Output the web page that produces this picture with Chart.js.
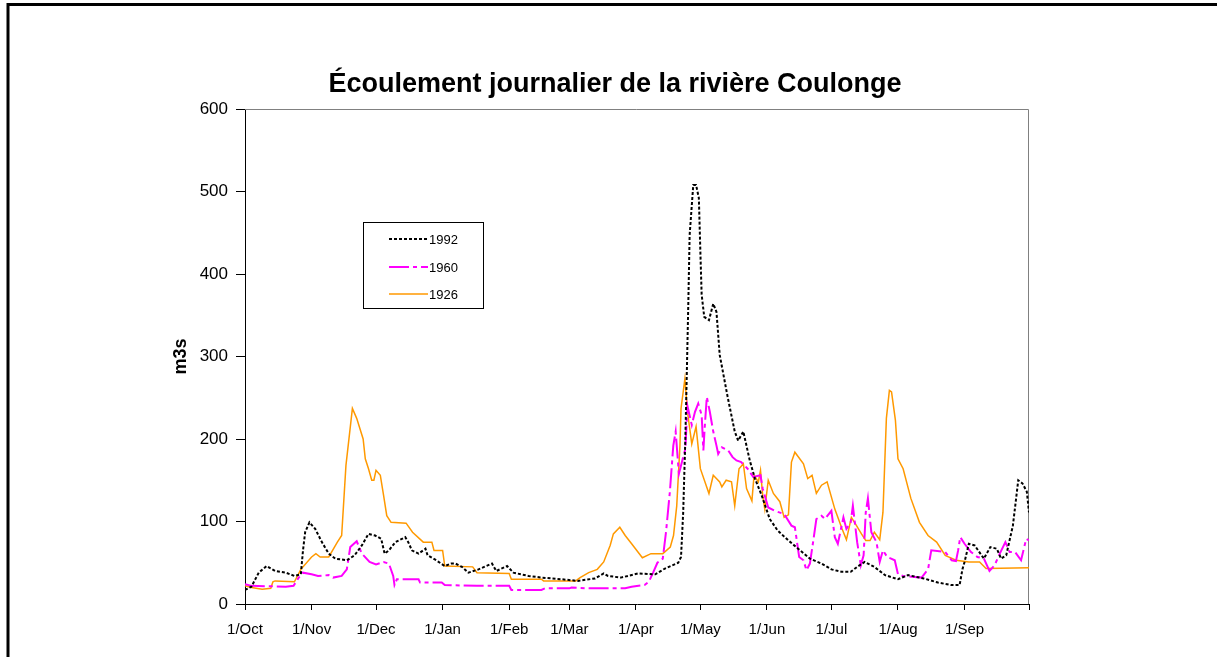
<!DOCTYPE html>
<html>
<head>
<meta charset="utf-8">
<script src="https://cdn.jsdelivr.net/npm/chart.js@4.4.1/dist/chart.umd.min.js"></script>
<style>
    html, body { margin: 0; padding: 0; background: #fff; }
    #wrap { width: 1217px; height: 657px; position: relative; }
</style>
</head>
<body>
<div id="wrap"><canvas id="flowChart"></canvas></div>
<script>
// day index counted from 1 October
const monthStarts = [0, 31, 61, 92, 123, 151, 182, 212, 243, 273, 304, 335, 365];
const monthLabels = ["1/Oct", "1/Nov", "1/Dec", "1/Jan", "1/Feb", "1/Mar", "1/Apr", "1/May", "1/Jun", "1/Jul", "1/Aug", "1/Sep", ""];

const chartTitle = "Écoulement journalier de la rivière Coulonge";
const seriesNames = ["1992", "1960", "1926"];

const days1992 = [0, 3, 6.4, 10, 14, 19, 23, 26, 27, 28, 30, 32.7, 35.8, 39, 42, 47.4, 51, 54.4, 57.5, 60.6, 63.4, 65, 67, 70, 74.6, 76, 77.7, 80.8, 84, 85, 89, 93, 96, 98, 101, 104, 108.7, 115, 117, 122, 125, 132, 138, 147.4, 155, 163, 167, 169, 175, 183, 191, 195.5, 201.7, 203, 204, 205, 205.6, 206.4, 207, 208.7, 210, 211.3, 212, 212.6, 213.8, 216, 218, 219.5, 221, 224.7, 228, 229.6, 232, 235, 237.4, 240.5, 244.3, 248, 253, 257.5, 263, 268.4, 273, 277.7, 282, 285, 288.5, 293, 298, 304, 308.7, 316, 322.6, 328.8, 332.7, 334, 335, 337, 339.7, 344, 347, 350, 352, 354.4, 357.5, 360, 362, 364, 365];
const flow1992 = [17, 21, 38, 46, 40, 38, 34, 36, 65, 87, 99, 91, 75, 61, 55, 53, 59, 71, 85, 83, 79, 61, 65, 75, 81, 75, 65, 61, 67, 59, 53, 46, 49, 49, 45, 38, 42, 49, 40, 46, 38, 34, 32, 30, 28, 31, 37, 34, 32, 37, 36, 43, 50, 57, 111, 200, 269, 366, 447, 508, 508, 492, 427, 375, 348, 344, 364, 354, 302, 251, 209, 198, 209, 174, 152, 132, 103, 89, 77, 67, 55, 49, 42, 39, 39, 45, 51, 45, 35, 30, 35, 31, 26, 23, 23, 42, 51, 73, 71, 55, 69, 67, 55, 59, 95, 150, 146, 136, 111];

const days1960 = [0, 3, 19, 22.6, 25, 27, 31, 34, 39, 41, 45, 47.4, 49, 52, 54.4, 58, 61, 64.5, 67, 69, 69.6, 70.7, 80.8, 81.5, 91.6, 93, 108, 123, 124, 138, 139.7, 151, 152, 160, 177, 180, 186, 188, 190, 192, 194.5, 196, 197.8, 199.4, 200.5, 202, 203, 205, 206, 208, 209.5, 211, 212.6, 213.4, 214, 215, 216.4, 218, 219.5, 220.3, 222, 225, 227, 228.8, 231, 234, 236.6, 240, 241, 243.6, 246.6, 251, 254.4, 256, 257, 258, 260, 261.4, 263, 264.7, 266, 268.4, 270, 273, 274, 274.6, 276, 278.6, 280, 282, 283, 285, 286.7, 288, 289, 290, 291.6, 294, 295.5, 297, 299, 302.5, 304, 306.4, 315, 318, 319.5, 326, 329, 331, 332, 333, 335, 338, 341, 344, 346.6, 349, 351, 354, 356, 358.5, 361.3, 363.7, 365];
const flow1960 = [24, 22, 21, 22, 32, 38, 36, 34, 35, 32, 34, 42, 69, 76, 61, 51, 48, 51, 49, 34, 23, 30, 30, 26, 26, 23, 22, 22, 17, 17, 19, 19, 20, 19, 19, 21, 23, 27, 38, 50, 55, 87, 136, 192, 209, 158, 168, 188, 240, 217, 233, 243, 229, 186, 213, 251, 233, 209, 192, 182, 190, 186, 178, 174, 172, 164, 154, 156, 140, 117, 113, 109, 95, 93, 75, 57, 53, 41, 49, 79, 103, 107, 103, 113, 93, 81, 73, 105, 91, 99, 119, 75, 47, 59, 111, 128, 87, 75, 51, 65, 57, 53, 36, 34, 32, 42, 65, 63, 53, 52, 65, 81, 73, 63, 57, 55, 40, 47, 59, 75, 63, 63, 53, 79, 77];

const days1926 = [0, 3, 8, 12, 13, 14, 23, 26, 31, 33, 35, 39, 43, 45, 47, 50, 52, 55, 56, 57.5, 59, 60, 61, 63, 64.5, 66, 68, 75, 78, 83, 87, 88, 92, 93, 106, 108, 123, 124, 138, 139, 154, 156, 160, 164, 167, 170, 171.5, 174.5, 177, 180, 185, 189, 194.5, 198, 199.5, 201, 202.5, 203, 204.8, 206, 208, 210, 212, 216, 218, 221, 222, 224, 226.5, 228, 230, 232, 233.5, 236, 237, 239, 240, 241, 242, 243.6, 246, 249, 251, 253, 254.4, 256, 260, 262, 264, 266, 268.4, 271, 274.6, 278, 280, 282.3, 284.7, 287, 289, 291, 293, 295.5, 297, 298.6, 300, 301, 302.8, 304, 306.4, 310, 314, 318, 322, 326, 331, 337, 342, 345, 365];
const flow1926 = [22, 20, 18, 19, 27, 28, 27, 42, 57, 61, 57, 57, 75, 83, 168, 237, 225, 200, 176, 164, 150, 150, 162, 156, 132, 107, 99, 98, 87, 75, 75, 65, 65, 46, 45, 38, 37, 30, 30, 28, 28, 32, 38, 42, 51, 71, 85, 93, 83, 73, 56, 61, 61, 69, 83, 119, 192, 237, 273, 233, 194, 215, 164, 134, 156, 148, 142, 150, 148, 119, 164, 170, 140, 125, 156, 148, 162, 132, 115, 150, 134, 124, 105, 108, 172, 184, 170, 152, 156, 134, 144, 148, 115, 91, 78, 105, 95, 85, 77, 77, 87, 78, 111, 225, 259, 257, 223, 176, 164, 128, 99, 83, 75, 59, 53, 51, 51, 43, 44];

function toPoints(days, flows) {
    return days.map((d, i) => ({ x: d, y: flows[i] }));
}

Chart.defaults.font.family = "'Liberation Sans', Arial, sans-serif";
Chart.defaults.color = "#000";

// outer frame, plot-area border and title (title sits off-centre like the Excel original)
const framePlugin = {
    id: "frame",
    beforeDraw(chart) {
        const c = chart.ctx;
        c.save();
        c.fillStyle = "#fff";
        c.fillRect(0, 0, chart.width, chart.height);
        c.strokeStyle = "#000";
        c.lineWidth = 3;
        c.strokeRect(8, 4.5, chart.width + 50, chart.height + 50);
        c.fillStyle = "#000";
        c.font = "bold 27px 'Liberation Sans', Arial, sans-serif";
        c.textAlign = "center";
        c.textBaseline = "middle";
        c.fillText(chartTitle, 615, 85);
        c.restore();
    },
    beforeDatasetsDraw(chart) {
        const a = chart.chartArea;
        const c = chart.ctx;
        c.save();
        c.strokeStyle = "#808080";
        c.lineWidth = 1;
        c.beginPath();
        c.moveTo(a.left, a.top + 0.5);
        c.lineTo(a.right - 0.5, a.top + 0.5);
        c.lineTo(a.right - 0.5, a.bottom);
        c.stroke();
        c.restore();
    }
};

// legend box inside the plot area
const boxLegend = {
    id: "boxLegend",
    afterDatasetsDraw(chart) {
        const c = chart.ctx;
        const x0 = 363, y0 = 222, w = 120, h = 86;
        c.save();
        c.fillStyle = "#fff";
        c.fillRect(x0, y0, w, h);
        c.strokeStyle = "#000";
        c.lineWidth = 1;
        c.strokeRect(x0 + 0.5, y0 + 0.5, w, h);
        const rows = [239, 267, 294];
        chart.data.datasets.forEach((ds, i) => {
            c.strokeStyle = ds.borderColor;
            c.lineWidth = ds.borderWidth;
            c.setLineDash(ds.borderDash || []);
            c.beginPath();
            c.moveTo(389, rows[i]);
            c.lineTo(428, rows[i]);
            c.stroke();
            c.setLineDash([]);
            c.fillStyle = "#000";
            c.font = "13px 'Liberation Sans', Arial, sans-serif";
            c.textBaseline = "middle";
            c.fillText(ds.label, 429, rows[i] + 1);
        });
        c.restore();
    }
};

new Chart(document.getElementById("flowChart"), {
    type: "line",
    data: {
        datasets: [
            {
                label: seriesNames[0],
                data: toPoints(days1992, flow1992),
                borderColor: "#000000",
                borderWidth: 2,
                borderDash: [3, 2],
                pointRadius: 0,
                tension: 0
            },
            {
                label: seriesNames[1],
                data: toPoints(days1960, flow1960),
                borderColor: "#FF00FF",
                borderWidth: 2,
                borderDash: [20, 4, 4, 4],
                pointRadius: 0,
                tension: 0
            },
            {
                label: seriesNames[2],
                data: toPoints(days1926, flow1926),
                borderColor: "#FF9900",
                borderWidth: 1.5,
                pointRadius: 0,
                tension: 0
            }
        ]
    },
    options: {
        responsive: true,
        maintainAspectRatio: false,
        animation: false,
        layout: { padding: { left: 170, right: 188, top: 109, bottom: 10 } },
        scales: {
            x: {
                type: "linear",
                min: 0,
                max: 365,
                afterBuildTicks: (scale) => { scale.ticks = monthStarts.map(v => ({ value: v })); },
                afterFit: (scale) => { scale.height = 43; },
                ticks: {
                    autoSkip: false,
                    maxRotation: 0,
                    font: { size: 15 },
                    padding: 11,
                    callback: (value, index) => monthLabels[index]
                },
                grid: { drawOnChartArea: false, tickLength: 6, color: "#000" },
                border: { color: "#000", width: 1 }
            },
            y: {
                min: 0,
                max: 600,
                afterFit: (scale) => { scale.width = 75; },
                ticks: { stepSize: 100, font: { size: 17 }, padding: 8 },
                grid: { drawOnChartArea: false, tickLength: 9, color: "#000" },
                border: { color: "#000", width: 1 },
                title: { display: true, text: "m3s", font: { size: 18, weight: "bold" }, padding: 0 }
            }
        },
        plugins: {
            legend: { display: false },
            tooltip: { enabled: false },
            title: { display: false }
        }
    },
    plugins: [framePlugin, boxLegend]
});
</script>
</body>
</html>
